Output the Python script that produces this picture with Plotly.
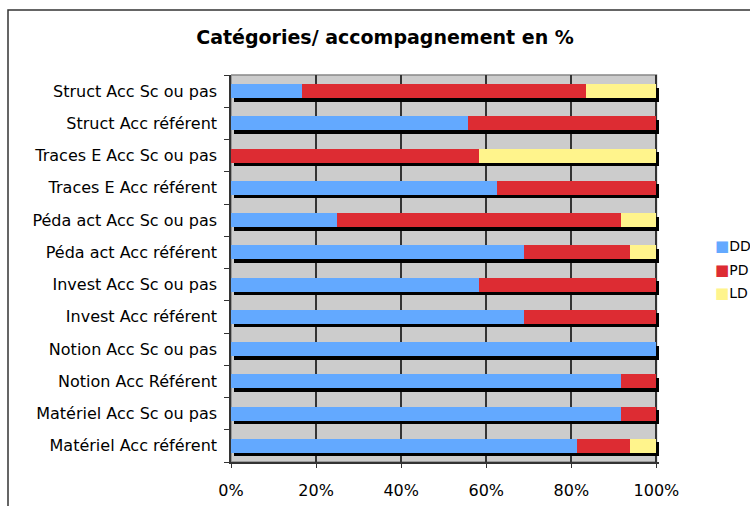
import plotly.graph_objects as go

categories = [
    "Struct Acc Sc ou pas",
    "Struct Acc référent",
    "Traces E Acc Sc ou pas",
    "Traces E Acc référent",
    "Péda act Acc Sc ou pas",
    "Péda act Acc référent",
    "Invest Acc Sc ou pas",
    "Invest Acc référent",
    "Notion Acc Sc ou pas",
    "Notion Acc Référent",
    "Matériel Acc Sc ou pas",
    "Matériel Acc référent",
]
dd = [16.7, 55.6, 0.0, 62.5, 25.0, 68.75, 58.3, 68.75, 100.0, 91.7, 91.7, 81.25]
pd_ = [66.7, 44.4, 58.3, 37.5, 66.7, 25.0, 41.7, 31.25, 0.0, 8.3, 8.3, 12.5]
ld = [16.6, 0.0, 41.7, 0.0, 8.3, 6.25, 0.0, 0.0, 0.0, 0.0, 0.0, 6.25]
series_names = ["DD", "PD", "LD"]
series_colors = ["#63A9FF", "#DD2C33", "#FFF48C"]
x_ticks = [0, 20, 40, 60, 80, 100]
x_ticklabels = ["0%", "20%", "40%", "60%", "80%", "100%"]
title = "Catégories/ accompagnement en %"

FONT = "DejaVu Sans"
cat_order = categories[::-1]
totals = [a + b + c for a, b, c in zip(dd, pd_, ld)]
BAR_W = 0.43

W, H = 750, 506
ML, MR, MT, MB = 231, 91, 75, 44
PW, PH = W - ML - MR, H - MT - MB

fig = go.Figure()

# drop shadows (drawn on the main y axis, behind the coloured bars)
fig.add_trace(go.Bar(
    y=categories, x=totals, base=0.6, orientation="h", width=BAR_W,
    marker=dict(color="black", line=dict(width=0)),
    showlegend=False, hoverinfo="skip", xaxis="x", yaxis="y",
))

for name, vals, col in zip(series_names, [dd, pd_, ld], series_colors):
    fig.add_trace(go.Bar(
        y=categories, x=vals, name=name, orientation="h", width=BAR_W,
        marker=dict(color=col, line=dict(width=0)),
        xaxis="x", yaxis="y2", showlegend=False,
    ))

# legend drawn as annotations (symbol + name) to match the compact layout
annotations = []
for i, (name, col) in enumerate(zip(series_names, series_colors)):
    yc = 1 - (246 + i * 23.5 - MT) / PH
    annotations.append(dict(
        xref="paper", yref="paper", x=(714 - ML) / PW, y=yc,
        xanchor="left", yanchor="middle", showarrow=False,
        text=f'<span style="color:{col};font-size:15px">■</span>{name}',
        font=dict(family=FONT, size=14, color="black"), borderpad=0,
    ))

shift = 0.11
fig.update_layout(
    width=W, height=H,
    margin=dict(l=ML, r=MR, t=MT, b=MB, autoexpand=False),
    paper_bgcolor="white", plot_bgcolor="white",
    barmode="stack",
    showlegend=False,
    font=dict(family=FONT, size=16, color="black"),
    title=dict(text="<b>" + title + "</b>", x=385 / W, xref="container",
               xanchor="center", y=1 - 37 / H, yref="container",
               yanchor="middle",
               font=dict(family=FONT, size=19, color="black")),
    xaxis=dict(range=[0, 100.6], tickvals=x_ticks, ticktext=x_ticklabels,
               showgrid=True, gridcolor="#333333", gridwidth=1.5,
               zeroline=False, showline=True, linecolor="#333333", linewidth=1.5,
               ticks="outside", ticklen=4, tickcolor="#333333",
               ticklabelstandoff=9, tickfont=dict(size=16)),
    yaxis=dict(type="category", categoryorder="array", categoryarray=cat_order,
               range=[-0.5 + shift, len(categories) - 0.5 + shift],
               showticklabels=False, showgrid=False, zeroline=False,
               showline=False, ticks=""),
    yaxis2=dict(type="category", categoryorder="array", categoryarray=cat_order,
                range=[-0.5, len(categories) - 0.5], overlaying="y", side="left",
                showgrid=False, zeroline=False, showline=True,
                linecolor="#333333", linewidth=1.5,
                ticks="outside", ticklen=5, tickcolor="#333333",
                tickson="boundaries", ticklabelstandoff=9,
                tickfont=dict(size=16)),
    annotations=annotations,
    shapes=[
        dict(type="rect", xref="x", yref="paper", x0=0, x1=100, y0=0, y1=1,
             fillcolor="#CCCCCC", line=dict(color="#888888", width=1.5),
             layer="below"),
        dict(type="rect", xref="paper", yref="paper",
             x0=(8 - ML) / PW, x1=1.6, y0=-0.5, y1=(H - MB - 10) / PH,
             fillcolor="rgba(0,0,0,0)", line=dict(color="#333333", width=1.5),
             layer="above"),
    ],
)

fig.write_html("out.html")
